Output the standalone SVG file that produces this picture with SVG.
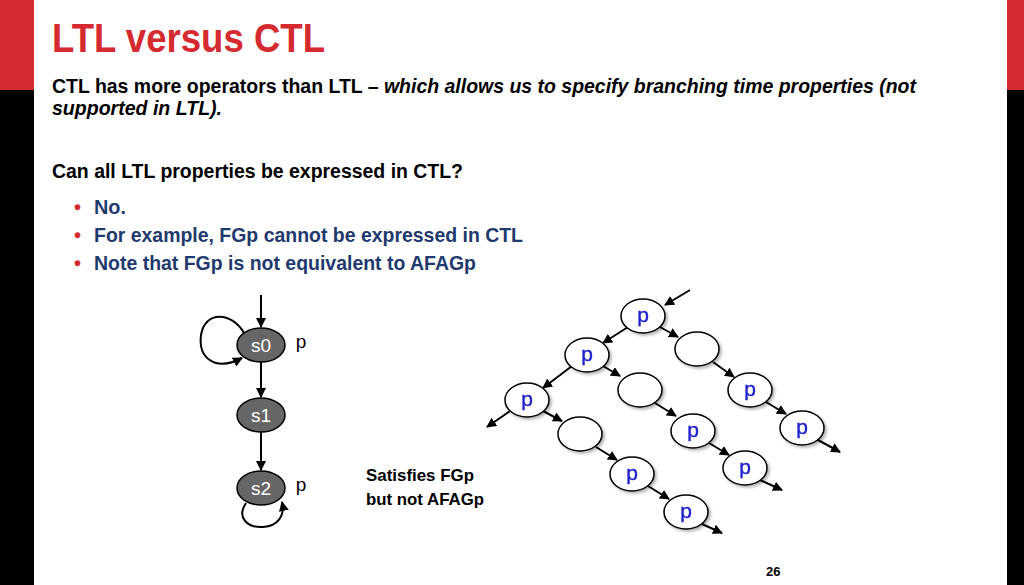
<svg xmlns="http://www.w3.org/2000/svg" width="1024" height="585" viewBox="0 0 1024 585">
<defs>
<style>
.b{font-family:"Liberation Sans",Arial,sans-serif;font-weight:bold}
.st{fill:#666;stroke:#000;stroke-width:1.5}
.tn{fill:#fff;stroke:#000;stroke-width:1.5}
.sl{font-family:"Liberation Sans",Arial,sans-serif;font-size:19px;fill:#fff;text-anchor:middle}
.pl{font-family:"Liberation Sans",Arial,sans-serif;font-size:21px;fill:#2222cc;text-anchor:middle;stroke:#2222cc;stroke-width:0.4}
.e{stroke:#000;stroke-width:2;fill:none;marker-end:url(#ah)}
</style>
<marker id="ah" viewBox="0 0 10 10" refX="9" refY="5" markerWidth="5" markerHeight="5" orient="auto"><path d="M0,0L10,5L0,10z" fill="#000"/></marker>
<filter id="sh"><feDropShadow dx="2" dy="2" stdDeviation="1.5" flood-opacity="0.3"/></filter>
</defs>
<rect width="1024" height="585" fill="#fff"/>
<rect x="0" y="0" width="34" height="90" fill="#d42a30"/>
<rect x="0" y="90" width="34" height="495" fill="#000"/>
<rect x="1007" y="0" width="17" height="90" fill="#d42a30"/>
<rect x="1007" y="90" width="17" height="495" fill="#000"/>
<text class="b" x="52" y="52" font-size="40" fill="#d42a30" textLength="273" lengthAdjust="spacingAndGlyphs">LTL versus CTL</text>
<text class="b" x="52" y="93" font-size="20" textLength="864" lengthAdjust="spacingAndGlyphs">CTL has more operators than LTL – <tspan font-style="italic">which allows us to specify branching time properties (not</tspan></text>
<text class="b" x="52" y="115" font-size="20" font-style="italic" textLength="170" lengthAdjust="spacingAndGlyphs">supported in LTL).</text>
<text class="b" x="52" y="178" font-size="20" textLength="411" lengthAdjust="spacingAndGlyphs">Can all LTL properties be expressed in CTL?</text>
<g class="b" font-size="20">
<text x="74" y="214" fill="#d42a30">•</text><text x="94" y="214" fill="#1f3a6e" textLength="32" lengthAdjust="spacingAndGlyphs">No.</text>
<text x="74" y="242" fill="#d42a30">•</text><text x="94" y="242" fill="#1f3a6e" textLength="429" lengthAdjust="spacingAndGlyphs">For example, FGp cannot be expressed in CTL</text>
<text x="74" y="270" fill="#d42a30">•</text><text x="94" y="270" fill="#1f3a6e" textLength="382" lengthAdjust="spacingAndGlyphs">Note that FGp is not equivalent to AFAGp</text>
</g>
<g id="connectors">
<path class="e" d="M261,295V327"/>
<path class="e" d="M261,362V397"/>
<path class="e" d="M261,432V470"/>
<path class="e" d="M244,333C232,312 205,310 201,335C198,358 215,372 242,358"/>
<path class="e" d="M246,503C236,518 248,528 263,527C278,526 285,516 282,502"/>
<path class="e" d="M690,290L665,305"/>
<path class="e" d="M628,327L603,343"/>
<path class="e" d="M660,327L678,337"/>
<path class="e" d="M572,366L543,388"/>
<path class="e" d="M603,366L620,376"/>
<path class="e" d="M713,362L734,377"/>
<path class="e" d="M510,411L487,427"/>
<path class="e" d="M543,411L562,421"/>
<path class="e" d="M655,403L676,416"/>
<path class="e" d="M766,402L786,414"/>
<path class="e" d="M596,447L617,460"/>
<path class="e" d="M709,443L729,455"/>
<path class="e" d="M818,440L840,452"/>
<path class="e" d="M648,486L669,499"/>
<path class="e" d="M760,480L782,490"/>
<path class="e" d="M702,524L722,533"/>
</g>
<g id="s0"><ellipse class="st" cx="261" cy="345" rx="24" ry="17"/><text class="sl" x="261" y="352">s0</text><text class="sl" x="301" y="348" style="fill:#000">p</text></g>
<g id="s1"><ellipse class="st" cx="261" cy="415" rx="24" ry="17"/><text class="sl" x="261" y="422">s1</text></g>
<g id="s2"><ellipse class="st" cx="261" cy="488" rx="24" ry="17"/><text class="sl" x="261" y="495">s2</text><text class="sl" x="301" y="491" style="fill:#000">p</text></g>
<g id="tree" filter="url(#sh)">
<g id="t1"><ellipse class="tn" cx="643" cy="316" rx="22" ry="17"/><text class="pl" x="643" y="322">p</text></g>
<g id="t2"><ellipse class="tn" cx="697" cy="349" rx="22" ry="17"/></g>
<g id="t3"><ellipse class="tn" cx="587" cy="355" rx="22" ry="17"/><text class="pl" x="587" y="361">p</text></g>
<g id="t4"><ellipse class="tn" cx="640" cy="390" rx="22" ry="17"/></g>
<g id="t5"><ellipse class="tn" cx="750" cy="390" rx="22" ry="17"/><text class="pl" x="750" y="396">p</text></g>
<g id="t6"><ellipse class="tn" cx="527" cy="400" rx="22" ry="17"/><text class="pl" x="527" y="406">p</text></g>
<g id="t7"><ellipse class="tn" cx="580" cy="434" rx="22" ry="17"/></g>
<g id="t8"><ellipse class="tn" cx="693" cy="431" rx="22" ry="17"/><text class="pl" x="693" y="437">p</text></g>
<g id="t9"><ellipse class="tn" cx="802" cy="428" rx="22" ry="17"/><text class="pl" x="802" y="434">p</text></g>
<g id="t10"><ellipse class="tn" cx="632" cy="474" rx="22" ry="17"/><text class="pl" x="632" y="480">p</text></g>
<g id="t11"><ellipse class="tn" cx="745" cy="468" rx="22" ry="17"/><text class="pl" x="745" y="474">p</text></g>
<g id="t12"><ellipse class="tn" cx="686" cy="512" rx="22" ry="17"/><text class="pl" x="686" y="518">p</text></g>
</g>
<text class="b" x="366" y="481" font-size="17" textLength="108" lengthAdjust="spacingAndGlyphs">Satisfies FGp</text>
<text class="b" x="366" y="505" font-size="17" textLength="118" lengthAdjust="spacingAndGlyphs">but not AFAGp</text>
<text class="b" x="766" y="576" font-size="13">26</text>
</svg>
